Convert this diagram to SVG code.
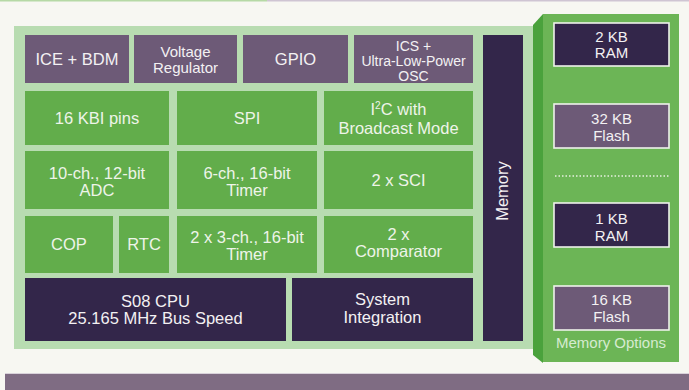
<svg xmlns="http://www.w3.org/2000/svg" width="689" height="390" viewBox="0 0 689 390">
<style>
text{font-family:"Liberation Sans",Arial,Helvetica,sans-serif;text-anchor:middle;fill:#f3f1f3}
.g{fill:#62ad4b}
.p{fill:#6d5a77}
.d{fill:#33264a}
.t16{font-size:16.5px}
.t15{font-size:15px}
.t14{font-size:14px}
.gt{fill:#eef4e9}
.mb{stroke:#eef2ea;stroke-width:1.6}
</style>
<rect width="689" height="390" fill="#f7f7f2"/>
<rect x="0" y="0" width="267" height="1.5" fill="#b6d9a6"/>
<rect x="267" y="0" width="422" height="1.5" fill="#cfc5d3"/>
<rect x="5" y="373" width="684" height="17" fill="#7f6c83"/>
<rect x="5" y="373" width="684" height="1" fill="#d9d2da"/>
<rect id="panel" x="14" y="26" width="520" height="323" fill="#b8dcb1"/>

<g id="ice-bdm"><rect class="p" x="25" y="35" width="104" height="48"/><text class="t16" x="77" y="65">ICE + BDM</text></g>
<g id="voltage-regulator"><rect class="p" x="134" y="35" width="103" height="48"/><text class="t15" x="185.5" y="57">Voltage</text><text class="t15" x="185.5" y="73">Regulator</text></g>
<g id="gpio"><rect class="p" x="243" y="35" width="105" height="48"/><text class="t16" x="295.5" y="65">GPIO</text></g>
<g id="ics"><rect class="p" x="354" y="35" width="119" height="48"/><text class="t14" x="413.5" y="51">ICS +</text><text class="t14" x="413.5" y="66">Ultra-Low-Power</text><text class="t14" x="413.5" y="81">OSC</text></g>

<g id="kbi"><rect class="g" x="25" y="91" width="144" height="54"/><text class="t16 gt" x="97" y="124">16 KBI pins</text></g>
<g id="spi"><rect class="g" x="177" y="91" width="140" height="54"/><text class="t16 gt" x="247" y="124">SPI</text></g>
<g id="i2c"><rect class="g" x="324" y="91" width="149" height="54"/><text class="t16 gt" x="398.5" y="115">I<tspan font-size="10" dy="-6">2</tspan><tspan dy="6">C with</tspan></text><text class="t16 gt" x="398.5" y="134">Broadcast Mode</text></g>

<g id="adc"><rect class="g" x="25" y="151" width="144" height="58"/><text class="t16 gt" x="97" y="179">10-ch., 12-bit</text><text class="t16 gt" x="97" y="196">ADC</text></g>
<g id="timer6"><rect class="g" x="177" y="151" width="140" height="58"/><text class="t16 gt" x="247" y="179">6-ch., 16-bit</text><text class="t16 gt" x="247" y="196">Timer</text></g>
<g id="sci"><rect class="g" x="324" y="151" width="149" height="58"/><text class="t16 gt" x="398.5" y="186">2 x SCI</text></g>

<g id="cop"><rect class="g" x="25" y="216" width="88" height="57"/><text class="t16 gt" x="69" y="250">COP</text></g>
<g id="rtc"><rect class="g" x="119" y="216" width="50" height="57"/><text class="t16 gt" x="144" y="250">RTC</text></g>
<g id="timer3"><rect class="g" x="177" y="216" width="140" height="57"/><text class="t16 gt" x="247" y="243">2 x 3-ch., 16-bit</text><text class="t16 gt" x="247" y="260">Timer</text></g>
<g id="comparator"><rect class="g" x="324" y="216" width="149" height="57"/><text class="t16 gt" x="398.5" y="240">2 x</text><text class="t16 gt" x="398.5" y="257">Comparator</text></g>

<g id="cpu"><rect class="d" x="25" y="278" width="261" height="63"/><text class="t16" x="155.5" y="307">S08 CPU</text><text class="t16" x="155.5" y="324">25.165 MHz Bus Speed</text></g>
<g id="system-integration"><rect class="d" x="292" y="278" width="181" height="63"/><text class="t16" x="382.5" y="305">System</text><text class="t16" x="382.5" y="323">Integration</text></g>

<g id="memory"><rect class="d" x="483" y="35" width="40" height="306"/><text class="t16" transform="translate(508 191) rotate(-90)">Memory</text></g>

<g id="memory-options">
<polygon points="533,25 543,14 543,363 533,355" fill="#4aa23c"/>
<rect x="543" y="14" width="136" height="348" fill="#6cb556"/>
<text class="t15" x="611" y="348" style="fill:#d6ebd0">Memory Options</text>
</g>
<g id="ram2"><rect class="d mb" x="554" y="23" width="115" height="43"/><text class="t15" x="611.5" y="42">2 KB</text><text class="t15" x="611.5" y="58">RAM</text></g>
<g id="flash32"><rect class="p mb" x="554" y="104" width="115" height="44"/><text class="t15" x="611.5" y="124">32 KB</text><text class="t15" x="611.5" y="141">Flash</text></g>
<line x1="555" y1="176" x2="669" y2="176" stroke="#e6f0df" stroke-width="1.5" stroke-dasharray="1.5 2"/>
<g id="ram1"><rect class="d mb" x="554" y="203" width="115" height="44"/><text class="t15" x="611.5" y="224">1 KB</text><text class="t15" x="611.5" y="241">RAM</text></g>
<g id="flash16"><rect class="p mb" x="554" y="286" width="115" height="44"/><text class="t15" x="611.5" y="305">16 KB</text><text class="t15" x="611.5" y="322">Flash</text></g>

<g id="connectors"></g>
</svg>
